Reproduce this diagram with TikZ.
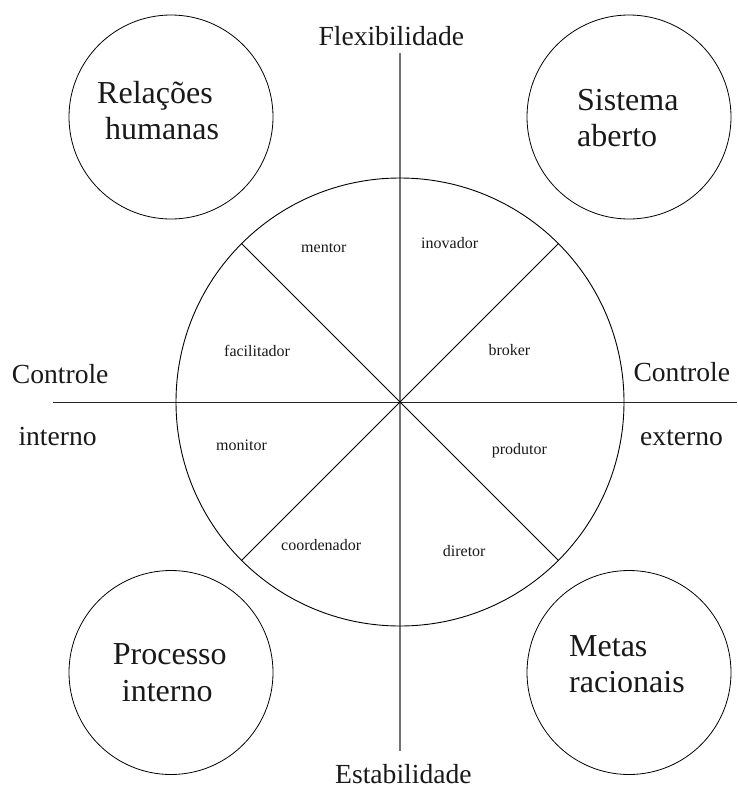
\documentclass[tikz,border=0pt]{standalone}
\usepackage{fontspec}
\setmainfont{Liberation Serif}
\begin{document}
\begin{tikzpicture}[x=1pt,y=-1pt,
  quad/.style={circle,draw=black,line width=0.8pt,minimum size=204pt,inner sep=0pt},
  wheelstyle/.style={circle,draw=black,line width=0.9pt,minimum size=448pt,inner sep=0pt},
  spoke/.style={draw=black,line width=1pt},
  vaxis/.style={draw=black!55,line width=1.4pt},
  haxis/.style={draw=black!85,line width=1pt},
  bigtxt/.style={anchor=base west,inner sep=0pt,font=\fontsize{32}{36}\selectfont,text=black!90},
  axtxt/.style={anchor=base west,inner sep=0pt,font=\fontsize{27.6}{32}\selectfont,text=black!90},
  role/.style={anchor=base west,inner sep=0pt,font=\fontsize{16}{19}\selectfont,text=black!90}]
\useasboundingbox (0,0) rectangle (737,787);

% axes
\coordinate (vtop) at (400,53);
\coordinate (vbot) at (400,751);
\coordinate (hleft) at (52.7,402);
\coordinate (hright) at (737,402);
\draw[vaxis] (vtop) -- (vbot);
\draw[haxis] (hleft) -- (hright);

% central wheel with its two diagonals
\node[wheelstyle] (wheel) at (400,402) {};
\draw[spoke] (wheel.135) -- (wheel.315);
\draw[spoke] (wheel.45) -- (wheel.225);

% four quadrant circles
\node[quad] (qtl) at (171,117) {};
\node[quad] (qtr) at (629,117) {};
\node[quad] (qbl) at (171,672.5) {};
\node[quad] (qbr) at (629,672.5) {};

% quadrant names
\node[bigtxt] (rel1) at (97,103) {Relações};
\node[bigtxt] (rel2) at (105,139) {humanas};
\node[bigtxt] (sis1) at (577,110) {Sistema};
\node[bigtxt] (sis2) at (577,146) {aberto};
\node[bigtxt] (pro1) at (112.7,664) {Processo};
\node[bigtxt] (pro2) at (121.7,701) {interno};
\node[bigtxt] (met1) at (569,656) {Metas};
\node[bigtxt] (met2) at (569,692) {racionais};

% axis labels
\node[axtxt] (flex) at (318.3,45) {Flexibilidade};
\node[axtxt] (estab) at (335,783.3) {Estabilidade};
\node[axtxt] (ci1) at (11.7,383) {Controle};
\node[axtxt] (ci2) at (18.3,445) {interno};
\node[axtxt] (ce1) at (633.3,381) {Controle};
\node[axtxt] (ce2) at (640,445) {externo};

% roles
\node[role] (mentor) at (301,252.3) {mentor};
\node[role] (inovador) at (421,248.3) {inovador};
\node[role] (facilitador) at (224,356.7) {facilitador};
\node[role] (broker) at (488.3,355) {broker};
\node[role] (monitor) at (216,450) {monitor};
\node[role] (produtor) at (491.7,454.3) {produtor};
\node[role] (coordenador) at (281,550) {coordenador};
\node[role] (diretor) at (442.7,556.7) {diretor};
\end{tikzpicture}
\end{document}
